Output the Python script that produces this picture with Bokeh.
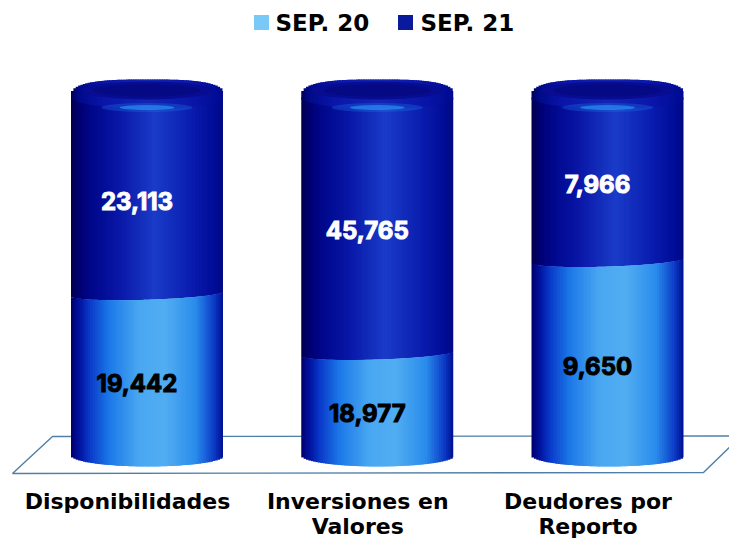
import numpy as np
from bokeh.plotting import figure
from bokeh.embed import file_html
from bokeh.resources import INLINE
from bokeh.core.properties import value

categories = ["Disponibilidades", "Inversiones en\nValores", "Deudores por\nReporto"]
sep_20 = [19442, 18977, 9650]
sep_21 = [23113, 45765, 7966]
series_names = ["SEP. 20", "SEP. 21"]

W, H = 729, 538
X0, DX = 146.5, 230.25     # screen x of first category, spacing
Y0, PY = 455.0, 3.65       # screen y of 0 %, px per %
NUM_FONT = "Inter"
TXT_FONT = "DejaVu Sans"

def xd(sx): return (sx - X0) / DX
def yd(sy): return (Y0 - sy) / PY

p = figure(width=W, height=H, output_backend="svg", toolbar_location=None,
           x_range=(xd(0), xd(729)), y_range=(yd(538), yd(0)), min_border=0,
           border_fill_color="#ffffff", background_fill_color="#ffffff")
p.axis.visible = False
p.grid.visible = False
p.outline_line_color = None

# floor
p.patch([xd(52), xd(12), xd(703), xd(735), xd(735), xd(52)],
        [yd(436), yd(473), yd(472), yd(441), yd(435.5), yd(436)],
        fill_color="#ffffff", line_color="#4f7fa6", line_width=1.4)

LIGHT = [(0, "#00006a"), (.05, "#00109c"), (.12, "#0a38c8"), (.25, "#1c78e8"), (.45, "#4aa8f2"),
         (.62, "#52aef2"), (.82, "#2a8cec"), (.94, "#0c3cc8"), (1, "#000f90")]
DARK = [(0, "#00004a"), (.05, "#000070"), (.14, "#00088c"), (.32, "#0a18a8"), (.55, "#1a3cc8"),
        (.8, "#0a1cae"), (.95, "#000c96"), (1, "#000a80")]
CAP = [(0, "#00005a"), (.05, "#000a88"), (.2, "#0a14a8"), (.5, "#1226b4"), (.8, "#0a16aa"), (1, "#000a90")]

def ramp(stops, t):
    ts = [s[0] for s in stops]
    rgb = np.array([[int(s[1][i:i+2], 16) for i in (1, 3, 5)] for s in stops], float)
    c = [np.interp(t, ts, rgb[:, k]) for k in range(3)]
    return ["#%02x%02x%02x" % (int(a), int(b), int(g)) for a, b, g in zip(*c)]

BAR = 152 / DX
N = 64
edges = np.linspace(-1, 1, N + 1)
mids = (edges[:-1] + edges[1:]) / 2
arc = np.sqrt(1 - mids ** 2)
dome = (1 - np.abs(mids) ** 3) ** (1 / 3)
t = (mids + 1) / 2

for i, (a, b) in enumerate(zip(sep_20, sep_21)):
    total = a + b
    pa = 100 * a / total
    left = i + edges[:-1] * BAR / 2
    right = np.minimum(i + edges[1:] * BAR / 2 + 0.008, i + BAR / 2)
    base = -(11 / PY) * arc
    split = pa - 5 / PY - (6 / PY) * arc + (2.5 / PY) * mids
    body_top = np.full(N, yd(97))
    p.quad(left=left, right=right, bottom=split, top=body_top, fill_color=ramp(DARK, t),
           line_color=None)
    p.quad(left=left, right=right, bottom=base, top=split, fill_color=ramp(LIGHT, t),
           line_color=None)
    # top cap
    p.quad(left=left, right=right, bottom=yd(97) - (11 / PY) * arc, top=yd(97) + (18 / PY) * dome,
           fill_color=ramp(CAP, t), line_color=None)
    p.ellipse(x=[i], y=[yd(90)], width=BAR * .86, height=18 / PY, fill_color="#070c90",
              line_color=None)
    p.ellipse(x=[i], y=[yd(90)], width=BAR * .7, height=12 / PY, fill_color="#050a84",
              line_color=None)
    p.ellipse(x=[i], y=[yd(107)], width=BAR * .6, height=9 / PY, fill_color="#1f78ea",
              fill_alpha=.3, line_color=None)
    p.ellipse(x=[i], y=[yd(107)], width=BAR * .36, height=5 / PY, fill_color="#2a90f0",
              fill_alpha=.7, line_color=None)
    # value labels
    for val, cy, col in ((a, pa / 2 - 3, "#000000"), (b, pa + (100 - pa) / 2 - 3, "#ffffff")):
        p.text(x=[i + xd(136.5) - xd(146.5)], y=[cy], text=[f"{val:,}"], text_color=col,
               text_align="center", text_baseline="middle", text_font=value(NUM_FONT),
               text_font_style="bold", text_font_size="24px",
               text_outline_color=col)
    # category labels
    for k, line in enumerate(categories[i].split("\n")):
        p.text(x=[i + xd(127) - xd(146.5)], y=[yd(501 + 24.5 * k)], text=[line],
               text_color="#000000", text_align="center", text_baseline="middle",
               text_font=value(TXT_FONT), text_font_style="bold", text_font_size="22px")

# legend
for sx, col, name, tx in ((261, "#78c8f8", series_names[0], 275),
                          (405, "#0a1a9c", series_names[1], 420)):
    p.scatter(x=[xd(sx)], y=[yd(22)], marker="square", size=15, fill_color=col, line_color=None)
    p.text(x=[xd(tx)], y=[yd(22)], text=[name], text_color="#000000", text_align="left",
           text_baseline="middle", text_font=value(TXT_FONT), text_font_style="bold",
           text_font_size="23px")

open("out.html", "w").write(file_html(p, INLINE))
